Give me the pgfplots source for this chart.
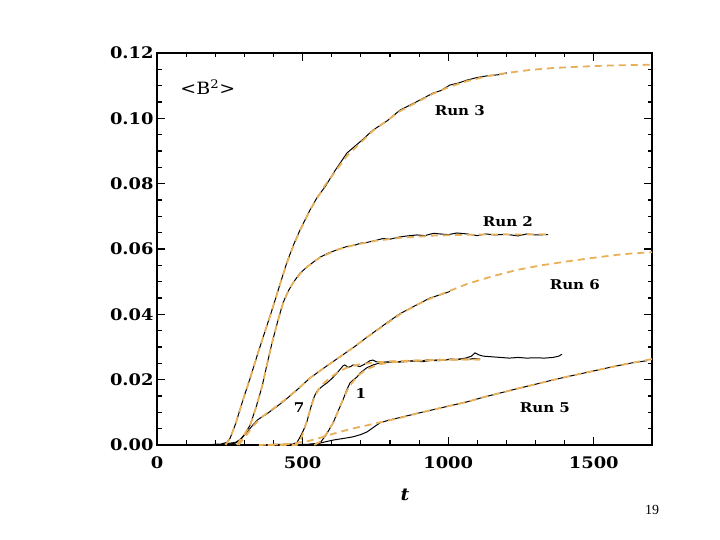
\documentclass[border=0pt]{standalone}
\usepackage{pgfplots}
\pgfplotsset{compat=1.18}
\usepackage{fontspec}
\setmainfont{DejaVu Serif}
\newfontfamily\idlfont{DejaVu Serif}[FakeStretch=1.12]
\newfontfamily\tnr{Liberation Serif}
\definecolor{fitorange}{RGB}{234,176,88}
\begin{document}
\begin{tikzpicture}[x=1bp,y=1bp]
\useasboundingbox (0,0) rectangle (720,540);
\fill[white] (0,0) rectangle (720,540);
\begin{axis}[
  at={(157bp,95bp)}, anchor=south west,
  scale only axis, width=495bp, height=392bp,
  xmin=0, xmax=1700, ymin=0, ymax=0.12,
  xtick={0,500,1000,1500}, minor x tick num=4,
  ytick={0,0.02,0.04,0.06,0.08,0.10,0.12}, minor y tick num=3,
  scaled y ticks=false, scaled x ticks=false,
  tick align=inside,
  major tick length=8bp, minor tick length=4.5bp,
  every tick/.style={black, line width=1.1bp},
  axis line style={line width=1.6bp},
  /pgf/number format/assume math mode=true,
  xticklabel style={font=\idlfont\bfseries\fontsize{16}{16}\selectfont, yshift=-8bp, /pgf/number format/1000 sep={}},
  yticklabel style={font=\idlfont\bfseries\fontsize{16}{16}\selectfont, /pgf/number format/.cd, fixed, fixed zerofill, precision=2},
  clip=false,
]
% Run 3 data
\addplot[black, line width=1bp] coordinates {(190,0.0002)(220,0.0003)(240,0.0008)(250.7,0.002)(270,0.0065)(295.3,0.0138)(320,0.0205)(346.8,0.0282)(370,0.0345)(394.9,0.0413)(420,0.0485)(446.4,0.0560)(470,0.0615)(491.1,0.0658)(510,0.0692)(525.4,0.0719)(550,0.0758)(576.9,0.0790)(610,0.0838)(652.5,0.0894)(700,0.0930)(741.8,0.0964)(790,0.0992)(834.5,0.1025)(890,0.1050)(947.8,0.1077)(975,0.1085)(1006.2,0.1102)(1035,0.1108)(1064.6,0.1117)(1100,0.1125)(1140,0.1131)(1170,0.1133)(1201.9,0.1139)};
% Run 2 data
\addplot[black, line width=1bp] coordinates {(250,0.0003)(270,0.0006)(285,0.0015)(300,0.0032)(319.4,0.0060)(340,0.0115)(360.6,0.0178)(380,0.0255)(394.9,0.0312)(415,0.0380)(432.7,0.0435)(450,0.0470)(467,0.0496)(491.1,0.0526)(515.1,0.0545)(540,0.0562)(559.8,0.0575)(590,0.0588)(620,0.0598)(650,0.0607)(680,0.0612)(700,0.0618)(721,0.0620)(750,0.0626)(776,0.0632)(800,0.0630)(834,0.0637)(860,0.0640)(893,0.0643)(920,0.0641)(950,0.0648)(972,0.0646)(1000,0.0644)(1030,0.0649)(1065,0.0646)(1100,0.0641)(1130,0.0646)(1160,0.0643)(1200,0.0645)(1240,0.0640)(1270,0.0646)(1300,0.0643)(1343,0.0644)};
% Run 6 data
\addplot[black, line width=1bp] coordinates {(230,0.0003)(270,0.0008)(290,0.0020)(310,0.0040)(330,0.0062)(347,0.0078)(380,0.0097)(432.7,0.0132)(480,0.0168)(525.4,0.0205)(580,0.0240)(628.4,0.0270)(680,0.0302)(721.2,0.0330)(780,0.0368)(834.5,0.0402)(890,0.0428)(937.5,0.0450)(980,0.0462)(1006,0.0470)};
% Run 7 data
\addplot[black, line width=1bp] coordinates {(400,0.0002)(440,0.0002)(467,0.0003)(480.8,0.0008)(491.1,0.0024)(503,0.0045)(515.1,0.0072)(525,0.0105)(535.7,0.0138)(545,0.0158)(553,0.0168)(568,0.0180)(583.8,0.0190)(600,0.0203)(618.1,0.0220)(638.7,0.0242)(645,0.0245)(655.9,0.0238)(665,0.0240)(673,0.0245)(685,0.0243)(697,0.0240)(710,0.0246)(721,0.0252)(731,0.0258)(741.8,0.0260)(752,0.0255)(765.8,0.0254)(790,0.0254)(810,0.0256)(830,0.0255)(850,0.0258)(870,0.0257)(890,0.0259)(910,0.0257)(930,0.0261)(950,0.0259)(970,0.0262)(990,0.0260)(1010,0.0263)(1030,0.0261)(1050,0.0264)(1070,0.0262)(1090,0.0265)(1110,0.0263)};
% Run 1 data
\addplot[black, line width=1bp] coordinates {(480,0.0002)(520,0.0002)(545,0.0003)(559.8,0.0006)(580,0.0030)(604.4,0.0067)(620,0.0100)(638.7,0.0138)(650,0.0165)(662.8,0.0190)(675,0.0200)(686.8,0.0208)(697,0.0220)(720,0.0236)(741.8,0.0245)(765,0.0251)(790,0.0254)(820,0.0253)(850,0.0255)(880,0.0257)(910,0.0255)(940,0.0259)(970,0.0258)(1000,0.0262)(1030,0.0262)(1060,0.0266)(1080,0.0272)(1092,0.0282)(1105,0.0276)(1120,0.0272)(1150,0.0270)(1180,0.0268)(1210,0.0266)(1240,0.0268)(1270,0.0266)(1300,0.0267)(1330,0.0266)(1360,0.0268)(1380,0.0272)(1391,0.0278)};
% Run 5 data
\addplot[black, line width=1bp] coordinates {(520,0.0002)(559.8,0.0006)(604.4,0.0015)(640,0.0020)(673.1,0.0025)(700,0.0032)(721.2,0.0040)(745,0.0055)(765.8,0.0068)(800,0.0077)(834.5,0.0084)(890,0.0096)(947.8,0.0108)(1006,0.0120)(1064.6,0.0132)(1120,0.0146)(1177.9,0.0159)(1235,0.0172)(1291.2,0.0184)(1350,0.0197)(1408,0.0209)(1465,0.0220)(1521.3,0.0231)(1578,0.0242)(1634.6,0.0252)(1682.7,0.0258)};
% fits
\pgfplotsset{fitstyle/.style={fitorange, line width=1.8bp, dash pattern=on 7bp off 5bp}}
\addplot[fitstyle] coordinates {(235,0)(250.7,0.002)(270,0.0065)(295.3,0.0138)(320,0.0205)(346.8,0.0282)(370,0.0345)(394.9,0.0413)(420,0.0485)(446.4,0.0558)(470,0.0613)(491.1,0.0656)(525.4,0.0719)(576.9,0.0795)(652.5,0.0885)(741.8,0.0962)(834.5,0.1022)(947.8,0.1075)(1006.2,0.1097)(1064.6,0.1114)(1130,0.1128)(1201.9,0.1139)(1280,0.1148)(1359.9,0.1154)(1450,0.1158)(1531.6,0.1161)(1620,0.1163)(1700,0.1164)};
\addplot[fitstyle] coordinates {(275,0)(285,0.0015)(300,0.0032)(319.4,0.0060)(340,0.0115)(360.6,0.0178)(380,0.0255)(394.9,0.0312)(415,0.0380)(432.7,0.0433)(450,0.0470)(467,0.0496)(491.1,0.0524)(515.1,0.0545)(559.8,0.0574)(620,0.0598)(680,0.0613)(750,0.0625)(834,0.0634)(950,0.0641)(1100,0.0644)(1343,0.0645)};
\addplot[fitstyle] coordinates {(280,0)(300,0.0022)(330,0.0058)(360,0.0086)(400,0.0112)(432.7,0.0134)(480,0.0168)(525.4,0.0205)(580,0.0240)(628.4,0.0270)(680,0.0302)(721.2,0.0330)(780,0.0366)(834.5,0.0400)(890,0.0428)(937.5,0.0448)(1006,0.0472)(1064.6,0.0493)(1150,0.0516)(1236.3,0.0536)(1320,0.0550)(1408,0.0562)(1490,0.0572)(1579.7,0.0582)(1640,0.0587)(1700,0.0590)};
\addplot[fitstyle] coordinates {(380,0)(480,0)(495,0.002)(510,0.006)(525,0.0105)(540,0.0145)(560,0.0178)(590,0.0203)(620,0.0222)(650,0.0236)(690,0.0246)(740,0.0252)(800,0.0256)(900,0.0259)(1000,0.0261)(1110,0.0262)};
\addplot[fitstyle] coordinates {(540,0)(560,0.001)(580,0.0032)(605,0.0068)(625,0.011)(640,0.0142)(660,0.0180)(690,0.0212)(720,0.0232)(760,0.0246)(800,0.0253)(900,0.0258)(1000,0.0261)(1110,0.0262)};
\addplot[fitstyle] coordinates {(350,0)(450,0.0003)(520,0.0012)(560,0.0022)(600,0.0033)(640,0.0043)(680,0.0052)(720,0.0060)(760,0.0068)(800,0.0076)(834.5,0.0083)(890,0.0096)(947.8,0.0108)(1006,0.0120)(1064.6,0.0132)(1120,0.0146)(1177.9,0.0159)(1235,0.0172)(1291.2,0.0184)(1350,0.0197)(1408,0.0209)(1465,0.0220)(1521.3,0.0231)(1578,0.0242)(1634.6,0.0252)(1700,0.0263)};
% labels
\begin{scope}[every node/.style={font=\idlfont\bfseries\fontsize{13.5}{14}\selectfont, inner sep=0pt}]
\node at (axis cs:1040,0.1025) {Run 3};
\node at (axis cs:1205,0.0683) {Run 2};
\node at (axis cs:1435,0.0490) {Run 6};
\node at (axis cs:1332,0.0113) {Run 5};
\node at (axis cs:488,0.0113) {7};
\node at (axis cs:700,0.0159) {1};
\end{scope}
\node[font=\idlfont\fontsize{17}{18}\selectfont, inner sep=0pt, anchor=west] at (axis cs:80,0.1096) {<B\textsuperscript{2}>};
\end{axis}
\node[font=\idlfont\bfseries\itshape\fontsize{17}{17}\selectfont] at (405,45) {t};
\node[font=\tnr\fontsize{14}{14}\selectfont] at (652,30) {19};
\end{tikzpicture}
\end{document}
